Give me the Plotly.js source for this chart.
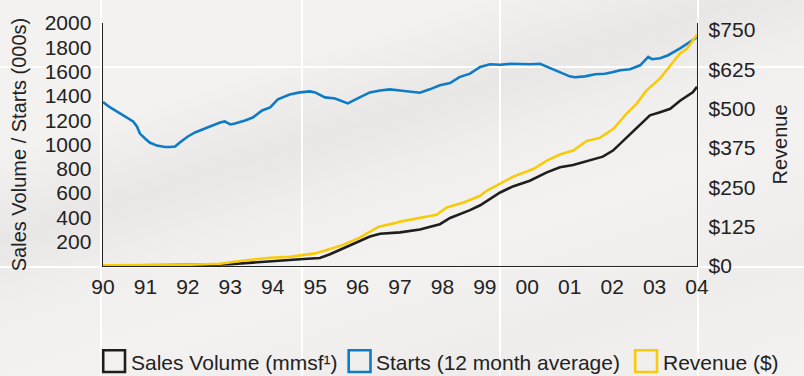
<!DOCTYPE html>
<html>
<head>
<meta charset="utf-8">
<script src="https://cdn.plot.ly/plotly-3.0.1.min.js"></script>
<style>
  html, body { margin: 0; padding: 0; }
  body {
    width: 804px; height: 376px; overflow: hidden;
    background: linear-gradient(162deg, #f3f2f1 0%, #f3f2f1 24%, #e9e7e6 38%, #f1f0ef 50%, #f3f2f1 62%, #eeedec 80%, #f3f2f1 100%);
  }
  #chart { width: 804px; height: 376px; }
</style>
</head>
<body>
<div id="chart"></div>
<script>
// ---------- DATA ----------
const seriesNames = ["Sales Volume (mmsf\u00B9)", "Starts (12 month average)", "Revenue ($)"];
const seriesColors = ["#1e1e1e", "#0e7bc6", "#f8cb0a"];

const tickYears  = [1990,1991,1992,1993,1994,1995,1996,1997,1998,1999,2000,2001,2002,2003,2004];
const tickLabels = ["90","91","92","93","94","95","96","97","98","99","00","01","02","03","04"];

const leftTicks  = [200,400,600,800,1000,1200,1400,1600,1800,2000];
const rightTicks = [0,125,250,375,500,625,750];
const rightLabels = ["$0","$125","$250","$375","$500","$625","$750"];

const salesYears = [1990.0,1991.1,1992.05,1992.52,1993.0,1993.46,1993.94,1994.4,1994.64,1995.11,1995.35,1995.82,1996.29,1996.53,1997.0,1997.47,1997.94,1998.18,1998.65,1998.89,1999.19,1999.36,1999.66,2000.06,2000.46,2000.77,2001.08,2001.41,2001.78,2002.02,2002.35,2002.66,2002.89,2003.13,2003.37,2003.6,2003.9,2004.0];
const salesVolume = [3,4,6,10,15,28,40,50,55,66,97,171,242,265,277,300,344,395,460,500,564,605,655,702,771,812,832,867,900,950,1060,1170,1240,1266,1294,1360,1430,1475];

const startsYears = [1990.0,1990.17,1990.4,1990.57,1990.71,1990.8,1990.87,1990.99,1991.1,1991.27,1991.46,1991.58,1991.7,1991.81,1992.0,1992.17,1992.36,1992.52,1992.76,1992.87,1993.0,1993.11,1993.35,1993.53,1993.75,1993.94,1994.12,1994.4,1994.64,1994.88,1995.0,1995.23,1995.47,1995.77,1996.05,1996.29,1996.53,1996.76,1997.0,1997.3,1997.47,1997.7,1997.94,1998.18,1998.4,1998.65,1998.89,1999.12,1999.36,1999.6,1999.83,2000.07,2000.3,2000.54,2000.77,2001.0,2001.12,2001.36,2001.6,2001.83,2002.0,2002.19,2002.42,2002.66,2002.85,2002.94,2003.13,2003.32,2003.6,2003.83,2004.0];
const startsAvg = [1349,1305,1256,1222,1190,1148,1090,1049,1016,991,979,979,983,1016,1066,1099,1123,1148,1181,1190,1165,1173,1198,1222,1280,1305,1371,1412,1429,1437,1429,1388,1379,1338,1388,1429,1445,1454,1445,1434,1426,1454,1487,1506,1555,1583,1638,1660,1656,1664,1660,1660,1664,1627,1597,1561,1553,1561,1578,1582,1594,1611,1619,1652,1721,1702,1710,1735,1792,1842,1883];

const revenueYears = [1990.0,1991.1,1992.05,1992.76,1993.23,1993.94,1994.4,1995.0,1995.6,1996.05,1996.5,1996.9,1997.0,1997.86,1998.1,1998.5,1998.89,1999.04,1999.36,1999.67,2000.14,2000.46,2000.77,2001.08,2001.4,2001.71,2002.03,2002.34,2002.58,2002.81,2003.13,2003.29,2003.6,2003.76,2004.0];
const revenue = [2,3,4,7,16,26,29,40,64,90,125,137,141,163,186,202,223,239,261,284,308,335,354,367,397,407,436,484,516,558,596,622,675,690,735];

// ---------- LAYOUT HELPERS ----------
const W = 804, H = 376;
const PL = 103, PR = 697, PT = 23, PB = 266;
const px = x => (x - PL) / (PR - PL);
const py = y => (PB - y) / (PB - PT);

const traces = [
  { x: salesYears, y: salesVolume, name: seriesNames[0], type: "scatter", mode: "lines",
    line: { color: seriesColors[0], width: 2.6 }, yaxis: "y", showlegend: false, hoverinfo: "skip" },
  { x: startsYears, y: startsAvg, name: seriesNames[1], type: "scatter", mode: "lines",
    line: { color: seriesColors[1], width: 2.6 }, yaxis: "y", showlegend: false, hoverinfo: "skip" },
  { x: revenueYears, y: revenue, name: seriesNames[2], type: "scatter", mode: "lines",
    line: { color: seriesColors[2], width: 2.6 }, yaxis: "y2", showlegend: false, hoverinfo: "skip" }
];

// decorative white page grid
const shapes = [];
[101, 302, 500, 698].forEach(x => shapes.push({
  type: "line", xref: "paper", yref: "paper", layer: "below",
  x0: px(x), x1: px(x), y0: py(H + 5), y1: py(-5), line: { color: "#ffffff", width: 2 }
}));
[67, 267].forEach(y => shapes.push({
  type: "line", xref: "paper", yref: "paper", layer: "below",
  x0: px(-5), x1: px(W + 5), y0: py(y), y1: py(y), line: { color: "#ffffff", width: 2 }
}));

// legend (hollow squares + labels)
const boxX = [102, 347.5, 634];
const textX = [129, 374, 661];
const annotations = [];
seriesNames.forEach((n, i) => {
  shapes.push({
    type: "rect", xref: "paper", yref: "paper",
    x0: px(boxX[i] + 1.2), x1: px(boxX[i] + 23), y0: py(372), y1: py(350.2),
    line: { color: seriesColors[i], width: 2.6 }, fillcolor: "rgba(0,0,0,0)"
  });
  annotations.push({
    xref: "paper", yref: "paper", x: px(textX[i]), y: py(362.5),
    xanchor: "left", yanchor: "middle", showarrow: false, text: n,
    font: { family: "Liberation Sans, Arial, sans-serif", size: 21, color: "#222222" }
  });
});

const tickFont = { family: "Liberation Sans, Arial, sans-serif", size: 21, color: "#222222" };

const layout = {
  width: W, height: H,
  margin: { l: PL, r: W - PR, t: PT, b: H - PB, pad: 0 },
  paper_bgcolor: "rgba(0,0,0,0)",
  plot_bgcolor: "rgba(0,0,0,0)",
  showlegend: false,
  xaxis: {
    range: [1990, 2004], tickvals: tickYears, ticktext: tickLabels,
    showline: true, linecolor: "#222222", linewidth: 1.4, ticks: "", showgrid: false, zeroline: false,
    tickfont: tickFont, ticklabelstandoff: 1, fixedrange: true
  },
  yaxis: {
    range: [0, 2000], tickvals: leftTicks,
    showline: true, linecolor: "#222222", linewidth: 1.4, ticks: "", showgrid: false, zeroline: false,
    tickfont: tickFont, ticklabelstandoff: 6,
    title: { text: "Sales Volume / Starts (000s)", font: { family: "Liberation Sans, Arial, sans-serif", size: 20, color: "#222222" }, standoff: 12 }
  },
  yaxis2: {
    range: [0, 772], tickvals: rightTicks, ticktext: rightLabels, overlaying: "y", side: "right",
    showline: true, linecolor: "#222222", linewidth: 1.4, ticks: "", showgrid: false, zeroline: false,
    tickfont: tickFont, ticklabelstandoff: 6,
    title: { text: "Revenue", font: { family: "Liberation Sans, Arial, sans-serif", size: 20, color: "#222222" }, standoff: 18 }
  },
  shapes: shapes,
  annotations: annotations
};

Plotly.newPlot("chart", traces, layout, { displayModeBar: false, staticPlot: true });
</script>
</body>
</html>
